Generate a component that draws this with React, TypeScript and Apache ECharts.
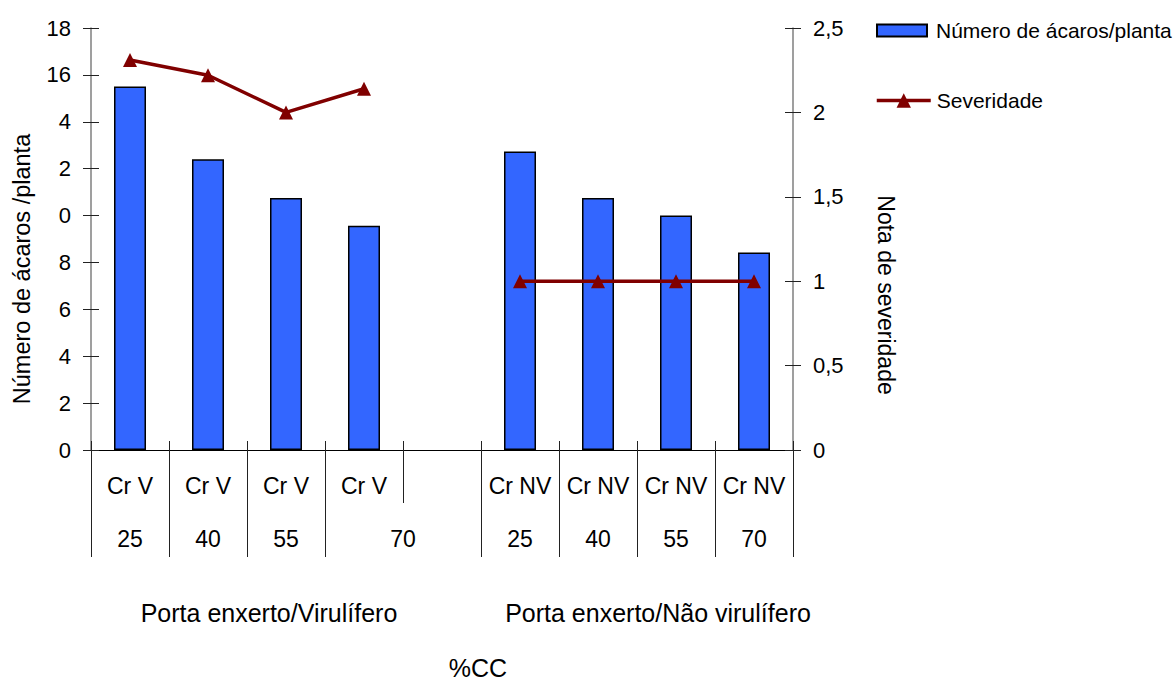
import React, { useEffect, useRef } from "react";
import * as echarts from "echarts";

const categories = ["Cr V 25", "Cr V 40", "Cr V 55", "Cr V 70", "gap", "Cr NV 25", "Cr NV 40", "Cr NV 55", "Cr NV 70"];
const row1Labels = ["Cr V", "Cr V", "Cr V", "Cr V", "", "Cr NV", "Cr NV", "Cr NV", "Cr NV"];
const row2Labels = ["25", "40", "55", "70", "25", "40", "55", "70"];
const row2Spans = [1, 1, 1, 2, 1, 1, 1, 1];
const mites = [15.5, 12.4, 10.75, 9.57, null, 12.73, 10.75, 10.0, 8.42];
const severity = [2.31, 2.22, 2.0, 2.14, null, 1, 1, 1, 1];
const leftTickLabels = ["0", "2", "4", "6", "8", "0", "2", "4", "16", "18"];
const rightTickLabels = ["0", "0,5", "1", "1,5", "2", "2,5"];
const groupLabels = ["Porta enxerto/Virulífero", "Porta enxerto/Não virulífero"];
const seriesNames = ["Número de ácaros/planta", "Severidade"];
const leftTitle = "Número de ácaros /planta";
const rightTitle = "Nota de severidade";
const xTitle = "%CC";

const FONT = "'Liberation Sans', Arial, Helvetica, sans-serif";

export default function App() {
  const ref = useRef<HTMLDivElement>(null);

  useEffect(() => {
    document.body.style.margin = "0";
    if (!ref.current) return;
    const chart = echarts.init(ref.current, undefined, { renderer: "svg" });

    const n = categories.length;
    const row1Bounds = Array.from({ length: n + 1 }, (_, i) => i);
    const row2Bounds: number[] = [0];
    const row2Centers: number[] = [];
    let acc = 0;
    row2Spans.forEach((s) => {
      row2Centers.push(acc + s / 2);
      acc += s;
      row2Bounds.push(acc);
    });
    const row2Map: Record<string, string> = {};
    row2Centers.forEach((c, i) => (row2Map[String(c)] = row2Labels[i]));

    const tickColor = "#222";
    const axisGray = "#7f7f7f";

    chart.setOption({
      animation: false,
      textStyle: { fontFamily: FONT },
      grid: { left: 91, right: 381, top: 28, bottom: 232 },
      legend: [
        {
          data: [{ name: seriesNames[0], icon: "rect" }],
          left: 876,
          top: 20,
          padding: 0,
          itemWidth: 50,
          itemHeight: 12,
          textStyle: { fontSize: 21, color: "#000", fontFamily: FONT, padding: [0, 0, 0, 4] },
        },
        {
          data: [{ name: seriesNames[1] }],
          left: 875,
          top: 90,
          padding: 0,
          itemWidth: 54,
          itemHeight: 18,
          lineStyle: { width: 3.5, color: "#800000" },
          textStyle: { fontSize: 21, color: "#000", fontFamily: FONT, padding: [0, 0, 0, 1] },
        },
      ],
      xAxis: [
        {
          type: "category",
          position: "bottom",
          data: categories,
          boundaryGap: true,
          axisLine: { lineStyle: { color: "#000", width: 1 } },
          axisTick: { show: true, inside: true, length: 9, interval: 0, lineStyle: { color: tickColor } },
          axisLabel: {
            interval: 0,
            fontSize: 23,
            color: "#000",
            fontFamily: FONT,
            margin: 24,
            formatter: (_v: string, i: number) => row1Labels[i],
          },
          splitLine: { show: false },
        },
        {
          type: "value",
          position: "bottom",
          min: 0,
          max: n,
          axisLine: { show: false },
          axisTick: { show: true, length: 53, customValues: row1Bounds, lineStyle: { color: tickColor } },
          axisLabel: { show: false },
          splitLine: { show: false },
        },
        {
          type: "value",
          position: "bottom",
          min: 0,
          max: n,
          axisLine: { show: false },
          axisTick: { show: true, length: 107, customValues: row2Bounds, lineStyle: { color: tickColor } },
          axisLabel: {
            show: true,
            customValues: row2Centers,
            fontSize: 23,
            color: "#000",
            fontFamily: FONT,
            margin: 77,
            formatter: (v: number) => row2Map[String(v)] ?? "",
          },
          splitLine: { show: false },
        },
      ],
      yAxis: [
        {
          type: "value",
          position: "left",
          min: 0,
          max: 18,
          interval: 2,
          axisLine: { show: true, lineStyle: { color: axisGray, width: 1.5 } },
          axisTick: { show: true, length: 8, lineStyle: { color: tickColor } },
          axisLabel: {
            fontSize: 22,
            color: "#000",
            fontFamily: FONT,
            margin: 20,
            formatter: (v: number) => leftTickLabels[Math.round(v / 2)] ?? "",
          },
          splitLine: { show: false },
        },
        {
          type: "value",
          position: "left",
          min: 0,
          max: 18,
          interval: 2,
          axisLine: { show: false },
          axisTick: { show: true, inside: true, length: 8, lineStyle: { color: tickColor } },
          axisLabel: { show: false },
          splitLine: { show: false },
        },
        {
          type: "value",
          position: "right",
          min: 0,
          max: 2.5,
          interval: 0.5,
          axisLine: { show: true, lineStyle: { color: axisGray, width: 1.5 } },
          axisTick: { show: true, length: 8, lineStyle: { color: tickColor } },
          axisLabel: {
            fontSize: 22,
            color: "#000",
            fontFamily: FONT,
            margin: 20,
            formatter: (v: number) => rightTickLabels[Math.round(v / 0.5)] ?? "",
          },
          splitLine: { show: false },
        },
        {
          type: "value",
          position: "right",
          min: 0,
          max: 2.5,
          interval: 0.5,
          axisLine: { show: false },
          axisTick: { show: true, inside: true, length: 8, lineStyle: { color: tickColor } },
          axisLabel: { show: false },
          splitLine: { show: false },
        },
      ],
      series: [
        {
          name: seriesNames[0],
          type: "bar",
          xAxisIndex: 0,
          yAxisIndex: 0,
          data: mites,
          barWidth: 32,
          itemStyle: { color: "#3366ff", borderColor: "#000", borderWidth: 1.5 },
        },
        {
          name: seriesNames[1],
          type: "line",
          xAxisIndex: 0,
          yAxisIndex: 2,
          data: severity,
          connectNulls: false,
          symbol: "triangle",
          symbolSize: 14,
          lineStyle: { color: "#800000", width: 3.5 },
          itemStyle: { color: "#800000" },
        },
      ],
      graphic: [
        {
          type: "text",
          x: 22,
          y: 269,
          rotation: Math.PI / 2,
          style: { text: leftTitle, fontSize: 23.5, fontFamily: FONT, fill: "#000", align: "center", verticalAlign: "middle" },
        },
        {
          type: "text",
          x: 886,
          y: 295,
          rotation: -Math.PI / 2,
          style: { text: rightTitle, fontSize: 23, fontFamily: FONT, fill: "#000", align: "center", verticalAlign: "middle" },
        },
        {
          type: "text",
          x: 269,
          y: 613,
          style: { text: groupLabels[0], fontSize: 25, fontFamily: FONT, fill: "#000", align: "center", verticalAlign: "middle" },
        },
        {
          type: "text",
          x: 658,
          y: 613,
          style: { text: groupLabels[1], fontSize: 25, fontFamily: FONT, fill: "#000", align: "center", verticalAlign: "middle" },
        },
        {
          type: "text",
          x: 478,
          y: 668,
          style: { text: xTitle, fontSize: 25, fontFamily: FONT, fill: "#000", align: "center", verticalAlign: "middle" },
        },
      ],
    });

    return () => chart.dispose();
  }, []);

  return <div ref={ref} style={{ width: 1174, height: 682 }} />;
}
